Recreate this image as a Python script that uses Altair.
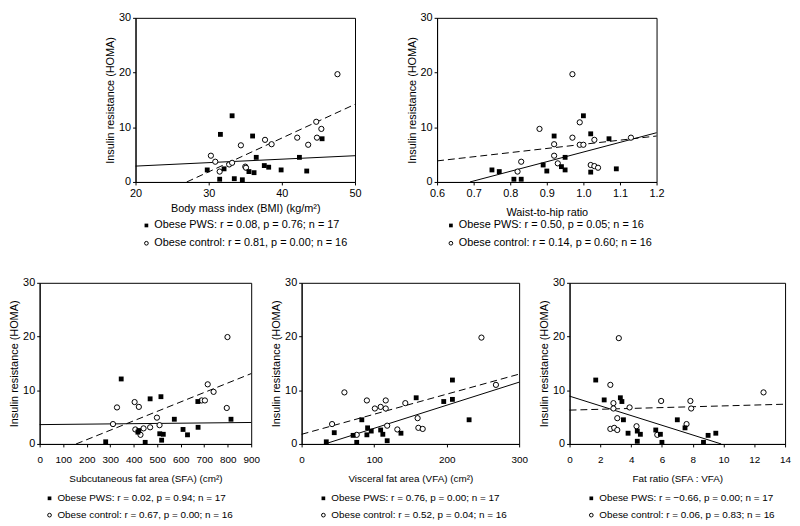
import altair as alt
import pandas as pd

FONT = "Liberation Sans"
Y_TITLE = "Insulin resistance (HOMA)"
Y_TICKS = [0, 10, 20, 30]

# ---------------- Panel 1: BMI ----------------
bmi_pws_x = [29.8, 31.6, 31.5, 32.1, 33.2, 33.5, 34.6, 35.5, 36.2, 36.0, 36.5, 37.6, 38.2, 39.9, 42.4, 43.4, 45.5]
bmi_pws_y = [2.2, 8.7, 0.5, 2.4, 12.1, 0.6, 0.4, 1.9, 1.7, 8.4, 4.5, 3.0, 2.7, 2.2, 4.5, 2.0, 7.9]
bmi_ctrl_x = [30.3, 30.9, 31.5, 32.8, 33.2, 34.4, 35.0, 35.1, 37.7, 38.6, 42.1, 43.6, 44.7, 44.8, 45.4, 47.6]
bmi_ctrl_y = [4.8, 3.7, 1.9, 3.2, 3.5, 6.7, 2.8, 2.6, 7.7, 6.9, 8.1, 6.8, 11.0, 8.1, 9.7, 19.7]
bmi_pws_fit_x = [20, 50]
bmi_pws_fit_y = [2.9, 4.8]
bmi_ctrl_fit_x = [27.0, 50]
bmi_ctrl_fit_y = [0, 14.2]
bmi_ticks = [20, 30, 40, 50]
bmi_legend = ["Obese PWS: r = 0.08, p = 0.76; n = 17", "Obese control: r = 0.81, p = 0.00; n = 16"]

# ---------------- Panel 2: Waist-to-hip ----------------
whr_pws_x = [0.75, 0.77, 0.81, 0.83, 0.89, 0.90, 0.92, 0.94, 0.95, 0.95, 1.00, 1.02, 1.02, 1.07, 1.09]
whr_pws_y = [2.2, 1.9, 0.5, 0.5, 3.1, 2.0, 8.4, 2.8, 4.5, 2.2, 12.1, 8.8, 1.8, 7.9, 2.4]
whr_ctrl_x = [0.82, 0.83, 0.88, 0.92, 0.92, 0.93, 0.97, 0.97, 0.99, 0.99, 1.00, 1.03, 1.02, 1.03, 1.04, 1.13]
whr_ctrl_y = [1.9, 3.7, 9.7, 6.9, 4.8, 3.4, 19.7, 8.1, 10.9, 6.8, 6.8, 7.7, 3.1, 2.9, 2.6, 8.1]
whr_pws_fit_x = [0.69, 1.2]
whr_pws_fit_y = [0, 9.0]
whr_ctrl_fit_x = [0.6, 1.2]
whr_ctrl_fit_y = [3.85, 8.4]
whr_ticks = [0.6, 0.7, 0.8, 0.9, 1.0, 1.1, 1.2]
whr_legend = ["Obese PWS: r = 0.50, p = 0.05; n = 16", "Obese control: r = 0.14, p = 0.60; n = 16"]

# ---------------- Panel 3: SFA ----------------
sfa_pws_x = [281, 347, 418, 422, 449, 470, 516, 511, 519, 526, 573, 610, 629, 673, 674, 814]
sfa_pws_y = [0.4, 12.1, 2.2, 2.5, 0.3, 8.4, 8.8, 1.9, 0.7, 1.8, 4.6, 2.7, 1.7, 7.9, 3.1, 4.6]
sfa_ctrl_x = [312, 329, 404, 407, 422, 429, 442, 470, 499, 510, 689, 703, 715, 740, 796, 799]
sfa_ctrl_y = [3.7, 6.8, 7.8, 2.7, 6.9, 1.7, 2.9, 3.1, 4.9, 3.5, 8.1, 8.1, 11.1, 9.7, 6.7, 19.9]
sfa_pws_fit_x = [0, 900]
sfa_pws_fit_y = [3.6, 4.0]
sfa_ctrl_fit_x = [155, 900]
sfa_ctrl_fit_y = [0, 13.1]
sfa_ticks = [0, 100, 200, 300, 400, 500, 600, 700, 800, 900]
sfa_legend = ["Obese PWS: r = 0.02, p = 0.94; n = 17", "Obese control: r = 0.67, p = 0.00; n = 16"]

# ---------------- Panel 4: VFA ----------------
vfa_pws_x = [34, 45, 71, 76, 83, 90, 91, 96, 109, 112, 118, 137, 158, 196, 208, 208, 231]
vfa_pws_y = [0.4, 2.1, 1.6, 0.3, 4.5, 1.7, 3.0, 2.4, 2.6, 1.8, 0.6, 2.0, 8.6, 7.9, 11.9, 8.3, 4.5]
vfa_ctrl_x = [42, 59, 76, 90, 101, 109, 116, 116, 118, 132, 143, 160, 161, 167, 248, 268]
vfa_ctrl_y = [3.7, 9.6, 1.7, 8.1, 6.6, 6.9, 8.1, 6.6, 3.4, 2.7, 7.6, 4.8, 3.0, 2.8, 19.8, 11.0]
vfa_pws_fit_x = [32, 300]
vfa_pws_fit_y = [0, 11.5]
vfa_ctrl_fit_x = [0, 300]
vfa_ctrl_fit_y = [1.8, 13.0]
vfa_ticks = [0, 100, 200, 300]
vfa_legend = ["Obese PWS: r = 0.76, p = 0.00; n = 17", "Obese control: r = 0.52, p = 0.04; n = 16"]

# ---------------- Panel 5: Fat ratio ----------------
fr_pws_x = [1.7, 2.25, 3.3, 3.4, 3.5, 3.8, 4.4, 4.4, 4.6, 5.6, 5.9, 6.0, 7.0, 7.5, 8.7, 9.0, 9.5]
fr_pws_y = [11.9, 8.2, 8.6, 7.9, 4.5, 2.0, 2.4, 0.5, 1.8, 2.6, 1.8, 0.3, 4.5, 3.0, 0.3, 1.6, 2.0]
fr_ctrl_x = [2.65, 2.65, 2.85, 2.85, 2.9, 3.1, 3.1, 3.2, 3.9, 4.35, 5.7, 5.95, 7.6, 7.85, 7.9, 12.6]
fr_ctrl_y = [11.0, 2.8, 7.6, 6.6, 3.0, 2.6, 4.8, 19.7, 6.8, 3.3, 1.7, 8.0, 3.7, 8.0, 6.6, 9.6]
fr_pws_fit_x = [0, 9.85]
fr_pws_fit_y = [8.9, 0]
fr_ctrl_fit_x = [0, 14]
fr_ctrl_fit_y = [6.3, 7.4]
fr_ticks = [0, 2, 4, 6, 8, 10, 12, 14]
fr_legend = ["Obese PWS: r = \u22120.66, p = 0.00; n = 17", "Obese control: r = 0.06, p = 0.83; n = 16"]


def panel(px, py, cx, cy, pfx, pfy, cfx, cfy, xdom, xticks, xfmt, xtitle, legend,
          w, h, leg_dx, leg_dy, xlabpad, xtitlepad, fsize):
    pws = pd.DataFrame({"x": px, "y": py})
    ctrl = pd.DataFrame({"x": cx, "y": cy})
    pfit = pd.DataFrame({"x": pfx, "y": pfy})
    cfit = pd.DataFrame({"x": cfx, "y": cfy})
    X = alt.X("x:Q", scale=alt.Scale(domain=xdom, nice=False, zero=False),
              axis=alt.Axis(values=xticks, format=xfmt, title=xtitle, labelFontSize=fsize,
                            titleFontSize=fsize, labelOverlap=False, labelFlush=False,
                            labelPadding=xlabpad, titlePadding=xtitlepad))
    Y = alt.Y("y:Q", scale=alt.Scale(domain=[0, 30], nice=False),
              axis=alt.Axis(values=Y_TICKS, title=Y_TITLE, labelPadding=2, titlePadding=3,
                            labelOverlap=False, labelFlush=False))
    sq = alt.Chart(pws).mark_square(size=24, color="black", opacity=1).encode(x=X, y=Y)
    ci = alt.Chart(ctrl).mark_point(shape="circle", size=28, color="black", fill="white",
                                    filled=False, strokeWidth=1, opacity=1).encode(x=X, y=Y)
    l1 = alt.Chart(pfit).mark_line(color="black", strokeWidth=1).encode(x=X, y=Y)
    l2 = alt.Chart(cfit).mark_line(color="black", strokeWidth=1, strokeDash=[7, 4]).encode(x=X, y=Y)
    one = pd.DataFrame({"t": [legend[0]]})
    two = pd.DataFrame({"t": [legend[1]]})
    t1 = alt.Chart(one).mark_text(align="left", baseline="middle", font=FONT, fontSize=fsize,
                                  color="black").encode(text="t:N", x=alt.value(leg_dx + 8),
                                                        y=alt.value(h + leg_dy[0]))
    t2 = alt.Chart(two).mark_text(align="left", baseline="middle", font=FONT, fontSize=fsize,
                                  color="black").encode(text="t:N", x=alt.value(leg_dx + 8),
                                                        y=alt.value(h + leg_dy[1]))
    m1 = alt.Chart(one).mark_square(size=14, color="black", opacity=1).encode(
        x=alt.value(leg_dx), y=alt.value(h + leg_dy[0]))
    m2 = alt.Chart(two).mark_point(shape="circle", size=14, color="black", strokeWidth=1,
                                   opacity=1).encode(x=alt.value(leg_dx), y=alt.value(h + leg_dy[1]))
    return alt.layer(l1, l2, ci, sq, t1, t2, m1, m2).properties(width=w, height=h)


TOP_H = 166
BOT_H = 163

p1 = panel(bmi_pws_x, bmi_pws_y, bmi_ctrl_x, bmi_ctrl_y, bmi_pws_fit_x, bmi_pws_fit_y,
           bmi_ctrl_fit_x, bmi_ctrl_fit_y, [20, 50], bmi_ticks, "d",
           "Body mass index (BMI) (kg/m\u00b2)", bmi_legend, 222, TOP_H, 11, [44, 62], 3, 4, 11)
p2 = panel(whr_pws_x, whr_pws_y, whr_ctrl_x, whr_ctrl_y, whr_pws_fit_x, whr_pws_fit_y,
           whr_ctrl_fit_x, whr_ctrl_fit_y, [0.6, 1.2], whr_ticks, ".1f",
           "Waist-to-hip ratio", whr_legend, 222, TOP_H, 14, [44, 62], 3, 8, 11)
p3 = panel(sfa_pws_x, sfa_pws_y, sfa_ctrl_x, sfa_ctrl_y, sfa_pws_fit_x, sfa_pws_fit_y,
           sfa_ctrl_fit_x, sfa_ctrl_fit_y, [0, 900], sfa_ticks, "d",
           "Subcutaneous fat area (SFA) (cm\u00b2)", sfa_legend, 214, BOT_H, 10, [55, 72], 8, 9, 10)
p4 = panel(vfa_pws_x, vfa_pws_y, vfa_ctrl_x, vfa_ctrl_y, vfa_pws_fit_x, vfa_pws_fit_y,
           vfa_ctrl_fit_x, vfa_ctrl_fit_y, [0, 300], vfa_ticks, "d",
           "Visceral fat area (VFA) (cm\u00b2)", vfa_legend, 220, BOT_H, 22, [55, 72], 8, 9, 10)
p5 = panel(fr_pws_x, fr_pws_y, fr_ctrl_x, fr_ctrl_y, fr_pws_fit_x, fr_pws_fit_y,
           fr_ctrl_fit_x, fr_ctrl_fit_y, [0, 14], fr_ticks, "d",
           "Fat ratio (SFA : VFA)", fr_legend, 218, BOT_H, 22, [55, 72], 8, 9, 10)

spacer = alt.Chart(pd.DataFrame({"a": [0]})).mark_point(opacity=0, size=1).encode(
    x=alt.value(1), y=alt.value(1)).properties(
    width=65, height=2, view=alt.ViewBackground(strokeOpacity=0, stroke="transparent"))

top = alt.hconcat(spacer, alt.hconcat(p1, p2, spacing=44), spacing=0)
bottom = alt.hconcat(p3, p4, p5, spacing=10)

chart = alt.vconcat(top, bottom, spacing=27).properties(
    padding={"left": 0, "top": 0, "right": 0, "bottom": 0}
).configure_view(stroke="black", strokeWidth=1).configure_axis(
    labelFont=FONT, titleFont=FONT, labelFontSize=11, titleFontSize=11,
    titleFontWeight="normal", labelColor="black", titleColor="black",
    domainColor="black", tickColor="black", tickSize=3, grid=False, domainWidth=1
).configure_concat(spacing=0)

chart.save("out.html", embed_options={"renderer": "svg", "actions": False})
